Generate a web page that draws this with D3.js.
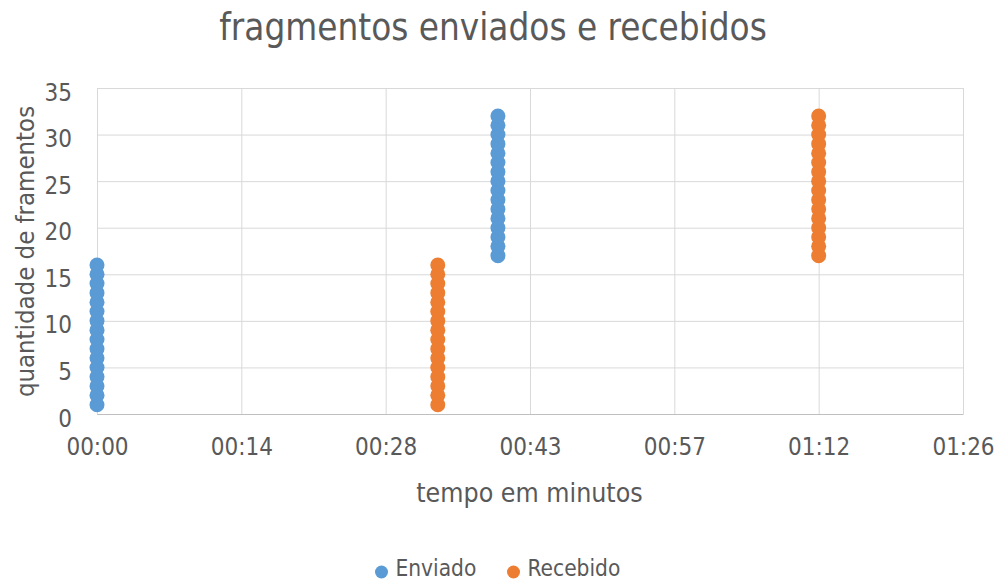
<!DOCTYPE html>
<html>
<head>
<meta charset="utf-8">
<script src="https://cdn.jsdelivr.net/npm/d3@7"></script>
<style>
  html, body { margin: 0; padding: 0; background: #fff; }
  svg text { font-family: "DejaVu Sans Condensed", "DejaVu Sans", sans-serif; font-stretch: condensed; fill: #595959; }
</style>
</head>
<body>
<svg id="chart" width="997" height="583"></svg>
<script>
// Fragment numbers and the time (in minutes) they were sent / received
const enviadoTempo = [0,0,0,0,0,0,0,0,0,0,0,0,0,0,0,0,40,40,40,40,40,40,40,40,40,40,40,40,40,40,40,40];
const enviadoFragmento = [1,2,3,4,5,6,7,8,9,10,11,12,13,14,15,16,17,18,19,20,21,22,23,24,25,26,27,28,29,30,31,32];
const recebidoTempo = [34,34,34,34,34,34,34,34,34,34,34,34,34,34,34,34,72,72,72,72,72,72,72,72,72,72,72,72,72,72,72,72];
const recebidoFragmento = [1,2,3,4,5,6,7,8,9,10,11,12,13,14,15,16,17,18,19,20,21,22,23,24,25,26,27,28,29,30,31,32];

const xTicks = [0, 14.4, 28.8, 43.2, 57.6, 72, 86.4];
const xTickLabels = ["00:00", "00:14", "00:28", "00:43", "00:57", "01:12", "01:26"];
const yTicks = [0, 5, 10, 15, 20, 25, 30, 35];

const seriesNames = ["Enviado", "Recebido"];
const seriesColors = ["#5B9BD5", "#ED7D31"];

const series = [
  { name: seriesNames[0], color: seriesColors[0], pts: enviadoTempo.map((t, i) => [t, enviadoFragmento[i]]) },
  { name: seriesNames[1], color: seriesColors[1], pts: recebidoTempo.map((t, i) => [t, recebidoFragmento[i]]) }
];

const svg = d3.select("#chart");
const plotL = 97, plotR = 963, plotT = 88, plotB = 414;

const x = d3.scaleLinear().domain([0, 86.4]).range([plotL, plotR]);
const y = d3.scaleLinear().domain([0, 35]).range([plotB, plotT]);

// gridlines
svg.append("g")
  .attr("transform", `translate(0,${plotB})`)
  .call(d3.axisBottom(x).tickValues(xTicks).tickSize(-(plotB - plotT)).tickFormat(""))
  .call(g => g.select(".domain").remove())
  .call(g => g.selectAll("line").attr("stroke", "#d9d9d9").attr("stroke-width", 1));

svg.append("g")
  .attr("transform", `translate(${plotL},0)`)
  .call(d3.axisLeft(y).tickValues(yTicks).tickSize(-(plotR - plotL)).tickFormat(""))
  .call(g => g.select(".domain").remove())
  .call(g => g.selectAll("line").attr("stroke", "#d9d9d9").attr("stroke-width", 1));

// x axis with labels
svg.append("g")
  .attr("transform", `translate(0,${plotB})`)
  .call(d3.axisBottom(x).tickValues(xTicks).tickSize(0).tickPadding(24)
    .tickFormat((d, i) => xTickLabels[i]))
  .call(g => g.select(".domain").attr("stroke", "#bfbfbf"))
  .call(g => g.selectAll("text").attr("font-size", 24).attr("fill", "#595959").attr("font-family", null));

// y axis labels
svg.append("g")
  .attr("transform", `translate(${plotL},0)`)
  .call(d3.axisLeft(y).tickValues(yTicks).tickSize(0).tickPadding(25))
  .call(g => g.select(".domain").remove())
  .call(g => g.selectAll("text").attr("font-size", 24).attr("dy", "0.5em")
    .attr("fill", "#595959").attr("font-family", null));

// points
series.forEach(s => {
  svg.append("g").selectAll("circle")
    .data(s.pts)
    .join("circle")
    .attr("cx", d => x(d[0]))
    .attr("cy", d => y(d[1]))
    .attr("r", 7.5)
    .attr("fill", s.color);
});

// titles
svg.append("text")
  .attr("x", 493).attr("y", 40)
  .attr("text-anchor", "middle")
  .attr("font-size", 36.5)
  .text("fragmentos enviados e recebidos");

svg.append("text")
  .attr("x", 529.5).attr("y", 502)
  .attr("text-anchor", "middle")
  .attr("font-size", 26.5)
  .text("tempo em minutos");

svg.append("text")
  .attr("transform", `translate(34,251.5) rotate(-90)`)
  .attr("text-anchor", "middle")
  .attr("font-size", 25.5)
  .text("quantidade de framentos");

// legend
const legendX = [381.5, 513.5];
series.forEach((s, i) => {
  const g = svg.append("g").attr("transform", `translate(${legendX[i]},572)`);
  g.append("circle").attr("r", 6.5).attr("fill", s.color);
  g.append("text").attr("x", 14).attr("y", 4).attr("font-size", 22.5).text(s.name);
});
</script>
</body>
</html>
